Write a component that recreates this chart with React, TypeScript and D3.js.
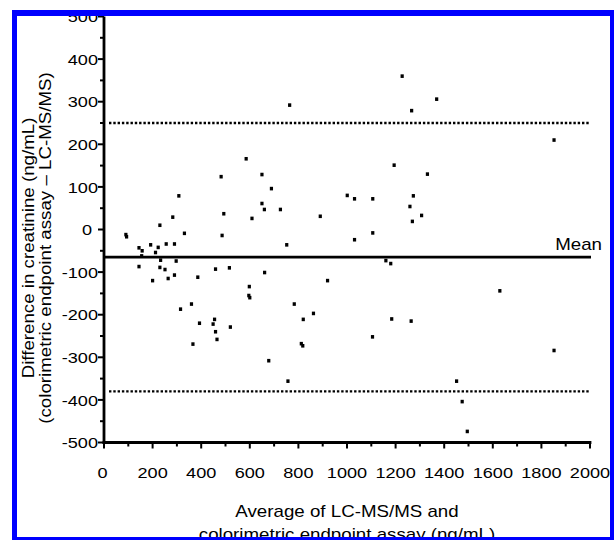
import React, { useEffect } from "react";
import * as d3 from "d3";

// Average of LC-MS/MS and colorimetric assay (ng/mL)
const avgValues: number[] = [
  90, 93, 144, 157, 155, 192, 212, 223, 230, 256, 283, 290, 308, 331,
  144, 233, 230, 251, 297, 290, 264, 200, 386, 459, 516,
  315, 360, 393, 366, 449, 455, 459, 465, 520,
  482, 493, 486, 585, 609, 598, 596, 600,
  650, 650, 660, 661, 689, 678, 726, 752, 764, 757, 783,
  820, 812, 818, 862, 890, 920,
  1001, 1031, 1031, 1106, 1106, 1105, 1160, 1180, 1184, 1194,
  1227, 1266, 1273, 1259, 1269, 1264, 1307, 1331, 1369,
  1451, 1474, 1495, 1629, 1852, 1852,
];
// Difference (colorimetric - LC-MS/MS) (ng/mL)
const diffValues: number[] = [
  -12, -17, -43, -50, -62, -36, -54, -42, 10, -34, 29, -34, 79, -9,
  -87, -72, -89, -94, -74, -107, -115, -120, -112, -93, -90,
  -187, -175, -220, -269, -222, -211, -240, -258, -229,
  124, 37, -14, 166, 26, -134, -155, -160,
  129, 61, 47, -101, 96, -308, 47, -36, 292, -356, -175,
  -211, -268, -273, -197, 31, -120,
  80, 72, -24, 72, -8, -252, -73, -80, -210, 151,
  360, 279, 79, 54, 19, -215, 33, 130, 306,
  -356, -404, -474, -144, 210, -284,
];

const meanDiff = -65;
const upperLimit = 250;
const lowerLimit = -380;

const xTicks: number[] = [0, 200, 400, 600, 800, 1000, 1200, 1400, 1600, 1800, 2000];
const yTicks: number[] = [500, 400, 300, 200, 100, 0, -100, -200, -300, -400, -500];

const xLabelLines: string[] = ["Average of LC-MS/MS and", "colorimetric endpoint assay (ng/mL)"];
const yLabelLines: string[] = ["Difference in creatinine (ng/mL)", "(colorimetric endpoint assay \u2013 LC-MS/MS)"];
const meanLabel = "Mean";

const W = 614;
const H = 540;
const FONT = "'Liberation Sans', Arial, Helvetica, sans-serif";
const SX = 1.17;

export default function App() {
  useEffect(() => {
    document.body.style.margin = "0";
  }, []);

  const x = d3.scaleLinear().domain([0, 2000]).range([104, 590]);
  const y = d3.scaleLinear().domain([-500, 500]).range([442.5, 16.5]);

  const minorX = d3.range(100, 2000, 200);
  const minorY = d3.range(-450, 500, 100);

  const pts = avgValues.map((a, i) => ({ a, d: diffValues[i] }));

  return (
    <svg width={W} height={H} style={{ display: "block", background: "#fff" }} fontFamily={FONT}>
      {/* limits of agreement */}
      <line x1={x(0) + 5} x2={x(2000)} y1={y(upperLimit)} y2={y(upperLimit)} stroke="#000" strokeWidth={2.4} strokeDasharray="2.4 1.9" />
      <line x1={x(0) + 5} x2={x(2000)} y1={y(lowerLimit)} y2={y(lowerLimit)} stroke="#000" strokeWidth={2.4} strokeDasharray="2.4 1.9" />
      {/* mean */}
      <line x1={x(0)} x2={x(2000) + 1} y1={y(meanDiff)} y2={y(meanDiff)} stroke="#000" strokeWidth={2.8} />
      <g transform={`translate(602,${y(meanDiff) - 7}) scale(${SX},1)`}>
        <text textAnchor="end" fontSize={16} fill="#000">{meanLabel}</text>
      </g>

      {/* points */}
      {pts.map((p, i) => (
        <rect key={i} x={x(p.a) - 1.6} y={y(p.d) - 1.8} width={3.2} height={3.6} fill="#000" />
      ))}

      {/* axes */}
      <line x1={x(0)} x2={x(0)} y1={y(500)} y2={y(-500) + 1.4} stroke="#000" strokeWidth={2.8} />
      <line x1={x(0) - 1.4} x2={x(2000) + 1.4} y1={y(-500)} y2={y(-500)} stroke="#000" strokeWidth={2.8} />
      {yTicks.map((t) => (
        <line key={"yt" + t} x1={x(0) - 6} x2={x(0)} y1={y(t)} y2={y(t)} stroke="#000" strokeWidth={2} />
      ))}
      {minorY.map((t) => (
        <line key={"ym" + t} x1={x(0) - 4} x2={x(0)} y1={y(t)} y2={y(t)} stroke="#000" strokeWidth={2} />
      ))}
      {xTicks.map((t) => (
        <line key={"xt" + t} x1={x(t)} x2={x(t)} y1={y(-500)} y2={y(-500) + 6} stroke="#000" strokeWidth={2} />
      ))}
      {minorX.map((t) => (
        <line key={"xm" + t} x1={x(t)} x2={x(t)} y1={y(-500)} y2={y(-500) + 4} stroke="#000" strokeWidth={2} />
      ))}

      {/* tick labels */}
      {yTicks.map((t) => (
        <g key={"yl" + t} transform={`translate(${t === 0 ? 92 : 98},${y(t) + 5.6}) scale(${SX},1)`}>
          <text textAnchor="end" fontSize={15.5} fill="#000">{String(t)}</text>
        </g>
      ))}
      {xTicks.map((t) => (
        <g key={"xl" + t} transform={`translate(${t === 0 ? x(t) - 1.5 : x(t)},478) scale(${SX},1)`}>
          <text textAnchor="middle" fontSize={15.5} fill="#000">{String(t)}</text>
        </g>
      ))}

      {/* axis titles */}
      {xLabelLines.map((s, i) => (
        <g key={"xa" + i} transform={`translate(347,${517 + i * 23}) scale(${SX},1)`}>
          <text textAnchor="middle" fontSize={16} fill="#000">{s}</text>
        </g>
      ))}
      {yLabelLines.map((s, i) => (
        <g key={"ya" + i} transform={`translate(${33.5 + i * 17},248) rotate(-90) scale(${SX},1)`}>
          <text textAnchor="middle" fontSize={16} fill="#000">{s}</text>
        </g>
      ))}

      {/* blue frame */}
      <rect x={12} y={10} width={602} height={6} fill="#0000ff" />
      <rect x={12} y={10} width={5} height={530} fill="#0000ff" />
      <rect x={610} y={10} width={4} height={530} fill="#0000ff" />
      <rect x={12} y={537} width={602} height={3} fill="#0000ff" />
      <rect x={0} y={0} width={12} height={540} fill="#fff" />
      <rect x={0} y={0} width={614} height={10} fill="#fff" />
    </svg>
  );
}
